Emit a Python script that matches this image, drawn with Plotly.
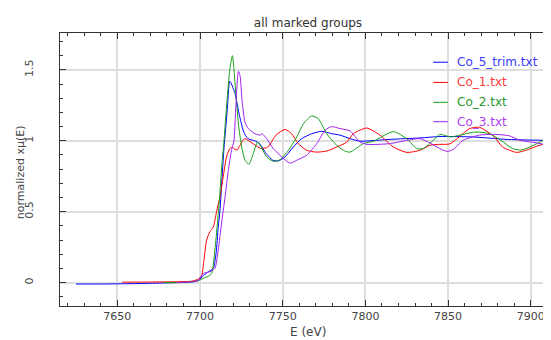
import plotly.graph_objects as go

# ---- data ----
names = ["Co_5_trim.txt", "Co_1.txt", "Co_2.txt", "Co_3.txt"]
colors = ["#0000ff", "#ff0000", "#18a018", "#a020f0"]
text_colors = ["#3a3aff", "#ff3a3a", "#2a9a2a", "#b040f0"]

e_co5 = [7625, 7640, 7655, 7670, 7685, 7695, 7699, 7702, 7705, 7708, 7709.7, 7711, 7712, 7713.5,
         7714.5, 7716.5, 7718, 7721, 7724, 7726.5, 7729, 7733, 7736, 7740, 7744, 7747.4, 7751.4,
         7756.4, 7761.5, 7767.5, 7773.6, 7779.6, 7784.6, 7790.7, 7796.7, 7802.8, 7815, 7833,
         7845, 7865, 7885, 7900, 7911, 7920]
mu_co5 = [-0.01, -0.01, -0.008, -0.005, 0.0, 0.005, 0.015, 0.05, 0.076, 0.10, 0.206, 0.39, 0.5, 0.77,
          0.95, 1.22, 1.42, 1.34, 1.17, 1.06, 1.015, 1.0, 0.98, 0.91, 0.863, 0.858, 0.886,
          0.956, 1.015, 1.05, 1.067, 1.05, 1.04, 1.015, 0.997, 1.0, 1.01, 1.02,
          1.03, 1.027, 1.01, 1.005, 1.003, 1.0]

e_co1 = [7653, 7670, 7685, 7695, 7699, 7701, 7702.4, 7704, 7706, 7708, 7710, 7712, 7714, 7716,
         7718, 7719.5, 7721, 7722.5, 7724, 7727, 7732, 7737, 7741, 7746, 7751.4, 7755.4, 7759.4,
         7764.5, 7770.5, 7776.6, 7782.6, 7788.7, 7792.7, 7800.8, 7808.8, 7816.9, 7825, 7833,
         7839, 7845, 7851, 7857, 7863, 7869, 7878, 7883, 7891.5, 7897.5, 7905.6, 7912, 7920]
mu_co1 = [0.003, 0.004, 0.006, 0.01, 0.025, 0.05, 0.16, 0.30, 0.36, 0.39, 0.50, 0.60, 0.745, 0.886,
          0.945, 0.955, 0.94, 0.935, 0.965, 1.015, 0.98, 0.945, 0.956, 1.04, 1.08, 1.05, 0.98,
          0.933, 0.92, 0.928, 0.956, 0.99, 1.05, 1.09, 1.04, 0.956, 0.918, 0.933,
          0.968, 0.975, 0.978, 1.03, 1.086, 1.095, 1.027, 0.955, 0.918, 0.935, 0.97, 0.98, 0.98]

e_co2 = [7678, 7690, 7698, 7702, 7705, 7707, 7709, 7710.5, 7711.7, 7713.1, 7714.5, 7716.2, 7718,
         7719.6, 7721.2, 7723.2, 7725.2, 7727.2, 7729.6, 7732.2, 7734.7, 7736.3, 7740.3, 7744.3,
         7748.4, 7753.4, 7758.5, 7762.5, 7767.5, 7771.5, 7776.6, 7781.6, 7786.6, 7790.7, 7798.7,
         7804.8, 7810, 7817, 7825, 7831, 7835, 7841, 7845, 7849, 7852, 7857, 7867, 7875, 7882,
         7889, 7894.5, 7901.5, 7907.6, 7912, 7920]
mu_co2 = [0.0, 0.0, 0.01, 0.03, 0.045, 0.065, 0.23, 0.417, 0.58, 0.815, 1.0, 1.27, 1.5,
          1.60, 1.40, 1.12, 0.956, 0.863, 0.835, 0.91, 0.99, 0.97, 0.886, 0.855,
          0.867, 0.933, 1.027, 1.12, 1.175, 1.156, 1.05, 0.98, 0.933, 0.92, 0.98,
          0.996, 1.03, 1.065, 1.015, 0.945, 0.945, 1.003, 1.045, 1.034, 1.027, 1.04, 1.062, 1.05, 1.003,
          0.945, 0.935, 0.968, 1.003, 1.03, 1.04]

e_co3 = [7686, 7695, 7699, 7702, 7706, 7709, 7711, 7713, 7715.1, 7717.1, 7719, 7720.5, 7721.5,
         7722.3, 7723.2, 7724.2, 7725.4, 7727.2, 7729.2, 7733.3, 7736.3, 7737.5, 7740.3, 7744.3,
         7749.4, 7754.5, 7758.5, 7764.5, 7770.6, 7775.6, 7779.6, 7784.6, 7790.7, 7796.7, 7800.8,
         7815, 7825, 7833, 7839, 7845, 7849.5, 7853, 7859, 7869, 7879, 7887, 7893.5, 7901,
         7911.6, 7920]
mu_co3 = [0.0, 0.005, 0.015, 0.065, 0.076, 0.10, 0.23, 0.417, 0.60, 0.79, 0.93, 1.0, 1.2,
          1.38, 1.49, 1.46, 1.285, 1.13, 1.086, 1.05, 1.04, 1.05, 1.015, 0.945,
          0.886, 0.842, 0.863, 0.898, 0.98, 1.074, 1.10, 1.086, 1.07, 0.992, 0.975,
          0.98, 1.003, 1.015, 0.985, 0.945, 0.925, 0.938, 1.003, 1.04, 1.045, 1.035, 1.003, 0.99,
          0.968, 0.96]

xs = [e_co5, e_co1, e_co2, e_co3]
ys = [mu_co5, mu_co1, mu_co2, mu_co3]

x_ticks = [7650, 7700, 7750, 7800, 7850, 7900]
y_ticks = [0, 0.5, 1, 1.5]
y_tick_text = ["0", "0.5", "1", "1.5"]

x_title = "E (eV)"
y_title = "normalized xμ(E)"
chart_title = "all marked groups"

FONT = "DejaVu Sans"
TXT = "#444444"

# page body has an 8px margin -> figure is 543x332 placed at (8,8)
W, H = 543, 332

fig = go.Figure()
for x, y, n, c in zip(xs, ys, names, colors):
    fig.add_trace(go.Scatter(x=x, y=y, mode="lines", name=n,
                             line=dict(color=c, width=1, shape="spline", smoothing=0.6),
                             showlegend=False))

# custom compact legend (short line sample + coloured text)
leg_y = [0.893, 0.819, 0.746, 0.675]
for n, c, tc, yy in zip(names, colors, text_colors, leg_y):
    fig.add_shape(type="line", xref="paper", yref="paper", x0=0.760, x1=0.790, y0=yy, y1=yy,
                  line=dict(color=c, width=1))
    fig.add_annotation(xref="paper", yref="paper", x=0.805, y=yy, text=n, showarrow=False,
                       xanchor="left", yanchor="middle", font=dict(family=FONT, size=12, color=tc))

# axis titles
fig.add_annotation(xref="paper", yref="paper", x=0.505, y=-0.095, text=x_title, showarrow=False,
                   xanchor="center", yanchor="middle", font=dict(family=FONT, size=12, color=TXT))
fig.add_annotation(xref="paper", yref="paper", x=-0.0815, y=0.49, text=y_title, showarrow=False,
                   textangle=-90, xanchor="center", yanchor="middle",
                   font=dict(family=FONT, size=11, color=TXT))

fig.update_layout(
    width=W, height=H,
    margin=dict(l=52, r=0, t=25, b=34, autoexpand=False),
    paper_bgcolor="white", plot_bgcolor="white",
    font=dict(family=FONT, size=11, color=TXT),
    title=dict(text=chart_title, x=300 / W, xanchor="center", y=1 - 15 / H, yanchor="middle",
               font=dict(family=FONT, size=12, color="#333333")),
)
fig.update_xaxes(
    range=[7615.35, 7912.2], tickvals=x_ticks, ticks="inside", ticklen=6, tickcolor="#333333",
    showline=True, linecolor="#333333", linewidth=1, mirror="allticks", automargin=False,
    showgrid=True, gridcolor="#dedede", gridwidth=1.5, zeroline=False,
    minor=dict(dtick=10, ticks="inside", ticklen=3, tickcolor="#333333", showgrid=False),
    tickfont=dict(family=FONT, size=11, color=TXT),
)
fig.update_yaxes(
    range=[-0.165, 1.76], tickvals=y_ticks, ticktext=y_tick_text, tickangle=-90,
    ticklabelstandoff=22,
    ticks="inside", ticklen=6, tickcolor="#333333", automargin=False,
    showline=True, linecolor="#333333", linewidth=1, mirror=False,
    showgrid=True, gridcolor="#dedede", gridwidth=1.5, zeroline=False,
    minor=dict(dtick=0.1, ticks="inside", ticklen=3, tickcolor="#333333", showgrid=False),
    tickfont=dict(family=FONT, size=11, color=TXT),
)

fig.write_html("out.html")
